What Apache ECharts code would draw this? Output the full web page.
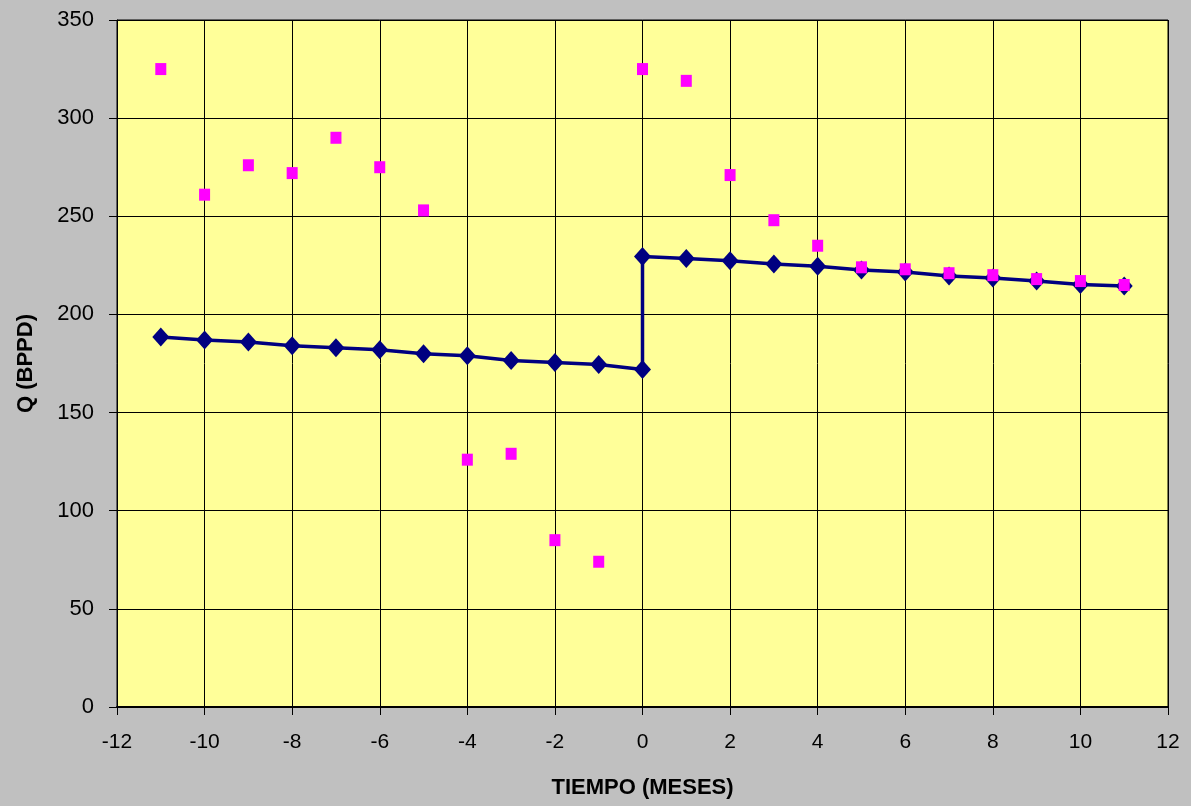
<!DOCTYPE html>
<html>
<head>
<meta charset="utf-8">
<script src="https://cdn.jsdelivr.net/npm/echarts@6/dist/echarts.min.js"></script>
<style>
html,body{margin:0;padding:0;background:#C0C0C0;}
#c{width:1191px;height:806px;}
</style>
</head>
<body>
<div id="c"></div>
<script>
// Measured data (pink squares)
const scatterX = [-11,-10,-9,-8,-7,-6,-5,-4,-3,-2,-1,0,1,2,3,4,5,6,7,8,9,10,11];
const scatterY = [325,261,276,272,290,275,253,126,129,85,74,325,319,271,248,235,224,223,221,220,218,217,215];
// Model line (navy diamonds); x=0 appears twice (step)
const lineX = [-11,-10,-9,-8,-7,-6,-5,-4,-3,-2,-1,0,0,1,2,3,4,5,6,7,8,9,10,11];
const lineY = [188.5,187,186,184,183,182,180,179,176.5,175.5,174.5,172,229.5,228.5,227.3,225.7,224.6,222.6,221.6,219.6,218.5,217,215.2,214.5];

const scatterData = scatterX.map((x,i)=>[x,scatterY[i]]);
const lineData = lineX.map((x,i)=>[x,lineY[i]]);

const chart = echarts.init(document.getElementById('c'), null, {renderer:'canvas'});
const font = 'Liberation Sans, Arial, sans-serif';
chart.setOption({
  backgroundColor:'#C0C0C0',
  animation:false,
  grid:{left:117,right:23,top:20,bottom:99,show:true,backgroundColor:'#FFFF99',borderColor:'#000',borderWidth:1},
  xAxis:{
    type:'value',min:-12,max:12,interval:2,
    name:'TIEMPO (MESES)',nameLocation:'middle',nameGap:70,
    nameTextStyle:{fontFamily:font,fontSize:22,fontWeight:'bold',color:'#000'},
    axisLine:{show:true,onZero:false,lineStyle:{color:'#000',width:2}},
    axisTick:{show:true,inside:false,length:8,lineStyle:{color:'#000'}},
    axisLabel:{fontFamily:font,fontSize:21,color:'#000',margin:25},
    splitLine:{show:true,lineStyle:{color:'#000',width:1}}
  },
  yAxis:{
    type:'value',min:0,max:350,interval:50,
    name:'Q (BPPD)',nameLocation:'middle',nameGap:80,nameRotate:90,
    nameTextStyle:{fontFamily:font,fontSize:22,fontWeight:'bold',color:'#000'},
    axisLine:{show:true,onZero:false,lineStyle:{color:'#000',width:1}},
    axisTick:{show:true,inside:false,length:8,lineStyle:{color:'#000'}},
    axisLabel:{fontFamily:font,fontSize:22,color:'#000',margin:23},
    splitLine:{show:true,lineStyle:{color:'#000',width:1}}
  },
  series:[
    {type:'line',data:lineData,symbol:'diamond',symbolSize:[17,19],
     lineStyle:{color:'#000080',width:3.5},itemStyle:{color:'#000080'},z:2},
    {type:'scatter',data:scatterData,symbol:'rect',symbolSize:[11,12],
     itemStyle:{color:'#FF00FF',opacity:1},z:3}
  ]
});
</script>
</body>
</html>
